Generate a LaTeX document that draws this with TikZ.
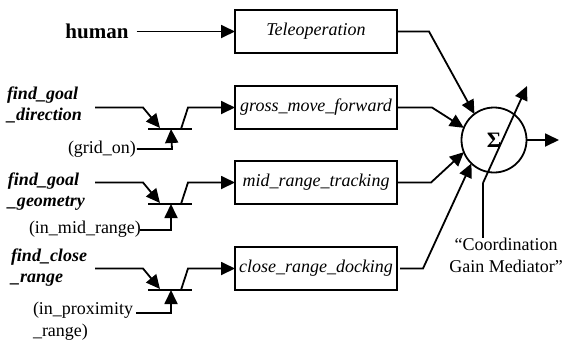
\documentclass[tikz,border=0pt]{standalone}
\usepackage{fontspec}
\setmainfont{Liberation Serif}
\usetikzlibrary{arrows.meta}
\begin{document}
\begin{tikzpicture}[x=1pt,y=-1pt,
  every node/.style={inner sep=0pt,outer sep=0pt},
  lbl/.style={font=\fontsize{18}{21}\selectfont\bfseries\itshape, align=left, anchor=west},
  cond/.style={font=\fontsize{18}{22}\selectfont, align=left, anchor=west},
  behav/.style={draw, line width=1.7pt, minimum width=162pt, minimum height=43pt,
                font=\fontsize{18}{21}\selectfont\itshape},
  wire/.style={line width=1.8pt},
  arr/.style={wire, -{Triangle[length=14pt,width=13pt]}},
]
\useasboundingbox (0,0) rectangle (564,341);

% behaviour boxes
\node[behav] (tele)  at (316,31.5)  {Teleoperation};
\node[behav] (gross) at (316,107.5) {gross\_move\_forward};
\node[behav] (mid)   at (316,182.5) {mid\_range\_tracking};
\node[behav] (close) at (316,268.5) {close\_range\_docking};

% summation junction
\node[draw, circle, line width=1.8pt, minimum size=65pt,
      font=\fontsize{22}{22}\selectfont\bfseries] (sum) at (494,140) {Σ};
\coordinate (out) at (559,140);
\draw[arr] (sum) -- (out);

% human input
\node[font=\fontsize{21}{21}\selectfont\bfseries] (human) at (97,31.5) {human};
\draw[arr] ([xshift=8pt]human.east) -- (tele.west);

% ---- suppression: find_goal_direction / grid_on
\node[lbl] (l2) at (7,105) {find\_goal\\\_direction};
\node[cond] (c2) at (68,149) {(grid\_on)};
\coordinate (i2) at (95,107.5);
\coordinate (k2) at (143,107.5);
\coordinate (t2) at (160,128);
\coordinate (bl2) at (148,129);
\coordinate (br2) at (192,129);
\coordinate (o2) at (181,129);
\coordinate (p2) at (188,107.5);
\coordinate (v2) at (171,129);
\draw[arr] (i2) -- (k2) -- (t2);
\draw[wire] (bl2) -- (br2);
\draw[arr] (o2) -- (p2) -- (gross.west);
\draw[arr] ([xshift=1pt]c2.east) -- ([xshift=1pt]c2.east -| v2) -- (v2);

% ---- suppression: find_goal_geometry / in_mid_range
\node[lbl] (l3) at (8,191.5) {find\_goal\\\_geometry};
\node[cond] (c3) at (29,229) {(in\_mid\_range)};
\coordinate (i3) at (95,182.5);
\coordinate (k3) at (143,182.5);
\coordinate (t3) at (160,203);
\coordinate (bl3) at (148,204);
\coordinate (br3) at (192,204);
\coordinate (o3) at (181,204);
\coordinate (p3) at (188,182.5);
\coordinate (v3) at (171,204);
\coordinate (cb3) at (140,230);
\draw[arr] (i3) -- (k3) -- (t3);
\draw[wire] (bl3) -- (br3);
\draw[arr] (o3) -- (p3) -- (mid.west);
\draw[arr] (cb3) -- (cb3 -| v3) -- (v3);

% ---- suppression: find_close_range / in_proximity_range
\node[lbl] (l4) at (11,268) {find\_close\\\_range};
\node[cond] (c4) at (33,321) {(in\_proximity\\\_range)};
\coordinate (i4) at (95,268.5);
\coordinate (k4) at (143,268.5);
\coordinate (t4) at (160,289);
\coordinate (bl4) at (148,290);
\coordinate (br4) at (192,290);
\coordinate (o4) at (181,290);
\coordinate (p4) at (188,268.5);
\coordinate (v4) at (171,290);
\coordinate (cb4) at (136,313);
\draw[arr] (i4) -- (k4) -- (t4);
\draw[wire] (bl4) -- (br4);
\draw[arr] (o4) -- (p4) -- (close.west);
\draw[arr] (cb4) -- (cb4 -| v4) -- (v4);

% behaviour outputs into the junction
\coordinate (b1) at (429,31.5);
\coordinate (b2) at (432,107.5);
\coordinate (b3) at (431,182.5);
\coordinate (b4) at (423,268.5);
\draw[arr] (tele.east)  -- (b1) -- (sum.127);
\draw[arr] (gross.east) -- (b2) -- (sum.158);
\draw[arr] (mid.east)   -- (b3) -- (sum.202);
\draw[arr] ([xshift=3pt]close.east) -- (b4) -- (sum.226);

% coordination gain mediator
\node[font=\fontsize{18}{22}\selectfont, align=center] (med) at (506,255)
  {“Coordination\\Gain Mediator”};
\coordinate (gm) at (483,183);
\coordinate (gt) at (527,86);
\draw[arr] (gm) -- (gt);
\draw[wire] (gm) -- (gm |- med.north);
\end{tikzpicture}
\end{document}
